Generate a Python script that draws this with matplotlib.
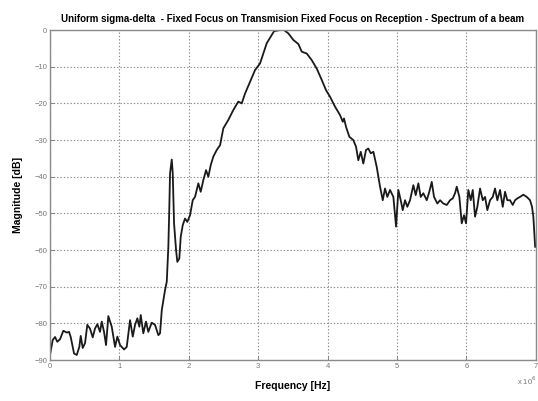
import matplotlib
matplotlib.use("Agg")
from matplotlib import pyplot as plt

# frequency in units of 1e6 Hz, magnitude in dB
freq = [0.000, 0.039, 0.072, 0.105, 0.144, 0.192, 0.241, 0.274, 0.298, 0.346,
        0.385, 0.422, 0.442, 0.471, 0.504, 0.537, 0.576, 0.615, 0.648, 0.682,
        0.720, 0.745, 0.778, 0.807, 0.840, 0.889, 0.937, 0.970, 1.009, 1.066,
        1.105, 1.153, 1.192, 1.225, 1.258, 1.287, 1.307, 1.344, 1.383, 1.416,
        1.465, 1.513, 1.561, 1.585, 1.610, 1.657, 1.682, 1.705, 1.719, 1.729,
        1.754, 1.768, 1.787, 1.816, 1.834, 1.863, 1.883, 1.912, 1.945, 1.978,
        2.017, 2.056, 2.089, 2.137, 2.171, 2.209, 2.248, 2.281, 2.316, 2.353,
        2.402, 2.450, 2.497, 2.569, 2.641, 2.713, 2.762, 2.810, 2.882, 2.954,
        3.026, 3.073, 3.122, 3.180, 3.228, 3.314, 3.372, 3.434, 3.506, 3.578,
        3.627, 3.699, 3.771, 3.843, 3.915, 3.977, 4.035, 4.107, 4.179, 4.218,
        4.236, 4.265, 4.313, 4.370, 4.409, 4.442, 4.477, 4.514, 4.553, 4.586,
        4.621, 4.659, 4.707, 4.755, 4.794, 4.827, 4.860, 4.899, 4.947, 4.986,
        5.019, 5.053, 5.082, 5.115, 5.148, 5.187, 5.235, 5.269, 5.307, 5.341,
        5.379, 5.428, 5.465, 5.500, 5.533, 5.581, 5.620, 5.667, 5.716, 5.764,
        5.803, 5.836, 5.860, 5.898, 5.932, 5.965, 5.994, 6.027, 6.062, 6.091,
        6.124, 6.157, 6.196, 6.235, 6.268, 6.301, 6.340, 6.379, 6.412, 6.445,
        6.484, 6.523, 6.556, 6.589, 6.628, 6.667, 6.700, 6.734, 6.772, 6.820,
        6.869, 6.916, 6.945, 6.964, 6.990]
mag_db = [-88.5, -84.5, -83.7, -85.0, -84.3, -82.0, -82.5, -82.3, -83.7, -88.2,
          -88.6, -86.4, -83.4, -86.7, -85.4, -80.4, -81.4, -83.8, -81.4, -80.2,
          -82.3, -79.5, -82.3, -85.9, -78.0, -80.9, -86.4, -83.6, -85.9, -87.1,
          -86.4, -79.1, -83.6, -80.4, -78.6, -80.9, -77.7, -82.7, -79.5, -82.3,
          -79.8, -80.4, -83.2, -82.7, -76.4, -70.9, -68.6, -59.0, -48.2, -39.1,
          -35.3, -39.0, -52.7, -60.0, -63.2, -62.3, -56.4, -53.2, -51.4, -52.3,
          -50.5, -46.4, -45.5, -41.8, -44.1, -40.9, -38.2, -40.0, -36.8, -34.5,
          -32.7, -31.4, -26.8, -24.5, -21.8, -19.5, -20.0, -17.3, -14.1, -10.9,
          -9.1, -6.4, -3.6, -1.8, -0.3, 0.0, 0.0, -0.9, -2.7, -3.8,
          -5.9, -6.4, -8.2, -10.5, -13.6, -16.4, -18.2, -20.9, -23.2, -25.0,
          -24.1, -26.4, -29.1, -30.0, -31.8, -35.5, -33.2, -36.4, -32.7, -32.3,
          -33.6, -33.2, -37.3, -42.7, -46.4, -43.2, -45.5, -43.6, -45.5, -53.6,
          -43.6, -46.4, -49.1, -46.4, -48.2, -46.4, -42.3, -45.0, -41.8, -45.5,
          -44.5, -46.4, -44.1, -41.4, -45.5, -47.3, -46.4, -47.3, -47.7, -46.4,
          -45.9, -44.5, -42.7, -45.5, -52.7, -50.5, -52.7, -43.6, -46.4, -43.6,
          -50.9, -48.2, -43.2, -46.4, -45.5, -49.1, -46.4, -45.5, -43.2, -46.4,
          -43.6, -48.2, -44.1, -46.4, -46.4, -47.7, -46.4, -45.9, -45.5, -44.9,
          -45.5, -46.4, -48.2, -50.9, -59.1]

x_ticks = [0, 1, 2, 3, 4, 5, 6, 7]
y_ticks = [-90, -80, -70, -60, -50, -40, -30, -20, -10, 0]

title = ("Uniform sigma-delta  - Fixed Focus on Transmision Fixed Focus "
         "on Reception - Spectrum of a beam")

plt.rcParams["font.family"] = ["Liberation Sans", "DejaVu Sans"]

fig = plt.figure(figsize=(5.38, 4.01), dpi=100)
ax = fig.add_axes([0.093, 0.102, 0.903, 0.823])

ax.plot(freq, mag_db, "-", color="#1a1a1a", linewidth=1.3)

ax.set_xlim(0, 7)
ax.set_ylim(-90, 0)
ax.set_xticks(x_ticks)
ax.set_yticks(y_ticks)
ax.grid(color="#8a8a8a", linestyle=(0, (1.2, 1.8)), linewidth=0.8)
ax.tick_params(direction="in", length=3, width=0.6, colors="#777777",
               labelsize=5.5, labelcolor="#777777", pad=2)
for s in ax.spines.values():
    s.set_color("#8a8a8a")
    s.set_linewidth(1.0)

ax.set_title(title, fontsize=7, fontweight="bold", pad=6)
ax.set_xlabel("Frequency [Hz]", fontsize=7.5, fontweight="bold", labelpad=8)
ax.set_ylabel("Magnitude [dB]", fontsize=7.5, fontweight="bold", labelpad=8)
fig.text(0.998, 0.035, r"x 10$^6$", fontsize=5.5, color="#777777",
         ha="right", va="bottom")

fig.savefig("out.png", dpi=100)
